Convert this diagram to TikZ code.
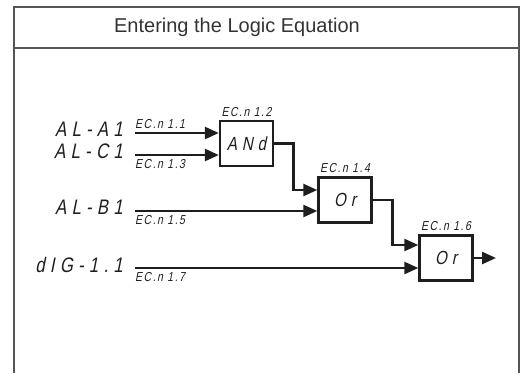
\documentclass[tikz,border=0pt]{standalone}
\usepackage{fontspec}
\setmainfont{Liberation Sans}
\newfontfamily\sigfont[FakeSlant=0.2,FakeStretch=0.8,LetterSpace=25]{Liberation Sans}
\newfontfamily\eqnfont[FakeSlant=0.2,FakeStretch=0.8,LetterSpace=12]{Liberation Sans}
\usetikzlibrary{positioning,arrows.meta}
\definecolor{framegray}{RGB}{85,85,85}
\definecolor{wireblack}{RGB}{30,30,30}

\begin{document}
\begin{tikzpicture}[x=1pt,y=-1pt,
  title/.style={font=\fontsize{20}{24}\selectfont, text=black!80, inner sep=0pt},
  signal/.style={font=\sigfont\fontsize{21}{24}\selectfont, text=wireblack, inner sep=0pt},
  eqn/.style={font=\eqnfont\fontsize{13}{15}\selectfont, text=wireblack, inner sep=0pt},
  gate/.style={draw=wireblack, line width=2.4pt, minimum width=53pt, minimum height=45pt,
    font=\sigfont\fontsize{19}{22}\selectfont, text=wireblack},
  arr/.style={draw=wireblack, line width=2.6pt, -{Triangle[length=14pt,width=12pt]}},
  frame/.style={draw=framegray, line width=1.4pt},
]
\useasboundingbox (0,0) rectangle (521,373);

\draw[frame] (14,373) |- (519,7) -- (519,373);
\draw[frame] (14,48) -- (519,48);
\node[title] (ttl) at (237,27) {Entering the Logic Equation};

\node[gate] (and) at (246.5,143.5) {ANd};
\node[gate] (or1) at (345,200)     {Or};
\node[gate] (or2) at (446,258)     {Or};

\coordinate (inA) at (135,133);
\coordinate (inC) at (135,155);
\coordinate (inB) at (135,211);
\coordinate (inD) at (135,268);
\coordinate (out) at (496,258);

\node[signal, left=12pt of inA, yshift=3.5pt] (alA) {AL-A1};
\node[signal, left=12pt of inC, yshift=3.5pt] (alC) {AL-C1};
\node[signal, left=12pt of inB, yshift=3.5pt] (alB) {AL-B1};
\node[signal, left=12pt of inD, yshift=3.5pt] (dig) {dIG-1.1};

\node[eqn, above right=4pt and 0pt of inA] (e11) {EC.n 1.1};
\node[eqn, above=3pt of and]               (e12) {EC.n 1.2};
\node[eqn, below right=4pt and 0pt of inC] (e13) {EC.n 1.3};
\node[eqn, above=3pt of or1]               (e14) {EC.n 1.4};
\node[eqn, below right=4pt and 0pt of inB] (e15) {EC.n 1.5};
\node[eqn, above=3pt of or2]               (e16) {EC.n 1.6};
\node[eqn, below right=4pt and 0pt of inD] (e17) {EC.n 1.7};

\draw[arr] (inA) -- (inA -| and.west);
\draw[arr] (inC) -- (inC -| and.west);
\draw[arr] (inB) -- (inB -| or1.west);
\draw[arr] (inD) -- (inD -| or2.west);
\draw[arr] (and.east) -- ++(19,0) |- ([yshift=10pt]or1.west);
\draw[arr] (or1.east) -- ++(20,0) |- ([yshift=13pt]or2.west);
\draw[arr] (or2.east) -- (out);
\end{tikzpicture}
\end{document}
